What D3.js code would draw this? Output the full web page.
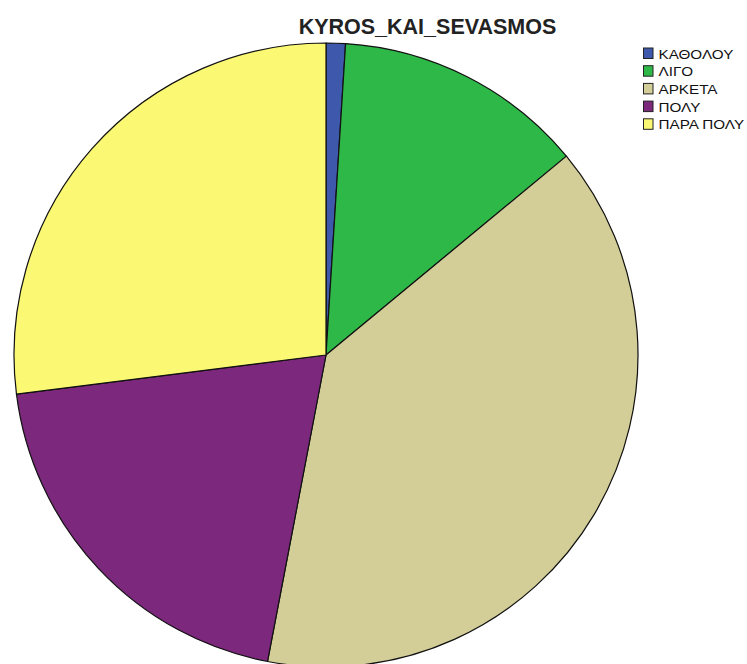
<!DOCTYPE html>
<html>
<head>
<meta charset="utf-8">
<script src="https://cdn.jsdelivr.net/npm/d3@7"></script>
<style>
  html, body { margin: 0; padding: 0; background: #fff; }
  svg { display: block; }
</style>
</head>
<body>
<svg id="chart" width="747" height="664"></svg>
<script>
// Response categories and their shares (%)
const categories = ["ΚΑΘΟΛΟΥ", "ΛΙΓΟ", "ΑΡΚΕΤΑ", "ΠΟΛΥ", "ΠΑΡΑ ΠΟΛΥ"];
const values = [1, 13, 39, 20, 27];
const colors = ["#3E58AC", "#2EB848", "#D3CE97", "#7C287D", "#FBF873"];
const title = "KYROS_KAI_SEVASMOS";

const svg = d3.select("#chart");
const cx = 326, cy = 355, radius = 312;

svg.append("text")
  .attr("x", 427.5).attr("y", 34)
  .attr("text-anchor", "middle")
  .attr("font-family", "Liberation Sans, Arial, sans-serif")
  .attr("font-weight", "bold")
  .attr("font-size", 21.5)
  .attr("fill", "#222")
  .text(title);

const data = categories.map((c, i) => ({ cat: c, value: values[i], color: colors[i] }));

const pie = d3.pie().value(d => d.value).sort(null);
const arc = d3.arc().innerRadius(0).outerRadius(radius);

const g = svg.append("g").attr("transform", `translate(${cx},${cy})`);
g.selectAll("path")
  .data(pie(data))
  .join("path")
  .attr("d", arc)
  .attr("fill", d => d.data.color)
  .attr("stroke", "#111")
  .attr("stroke-width", 1.2)
  .attr("stroke-linejoin", "round");

// Legend: swatch plus a horizontally widened label per category
const legend = svg.append("g").attr("transform", "translate(643,47.5)");
const row = legend.selectAll("g")
  .data(data)
  .join("g")
  .attr("transform", (d, i) => `translate(0,${i * 17.7})`);
row.append("rect")
  .attr("x", 0.5).attr("y", 0.5)
  .attr("width", 9.5).attr("height", 10.5)
  .attr("fill", d => d.color)
  .attr("stroke", "#222")
  .attr("stroke-width", 1);
row.append("text")
  .attr("transform", "translate(15.5,11) scale(1.22,1)")
  .attr("font-family", "Liberation Sans, Arial, sans-serif")
  .attr("font-size", 12.5)
  .attr("fill", "#111")
  .text(d => d.cat);
</script>
</body>
</html>
